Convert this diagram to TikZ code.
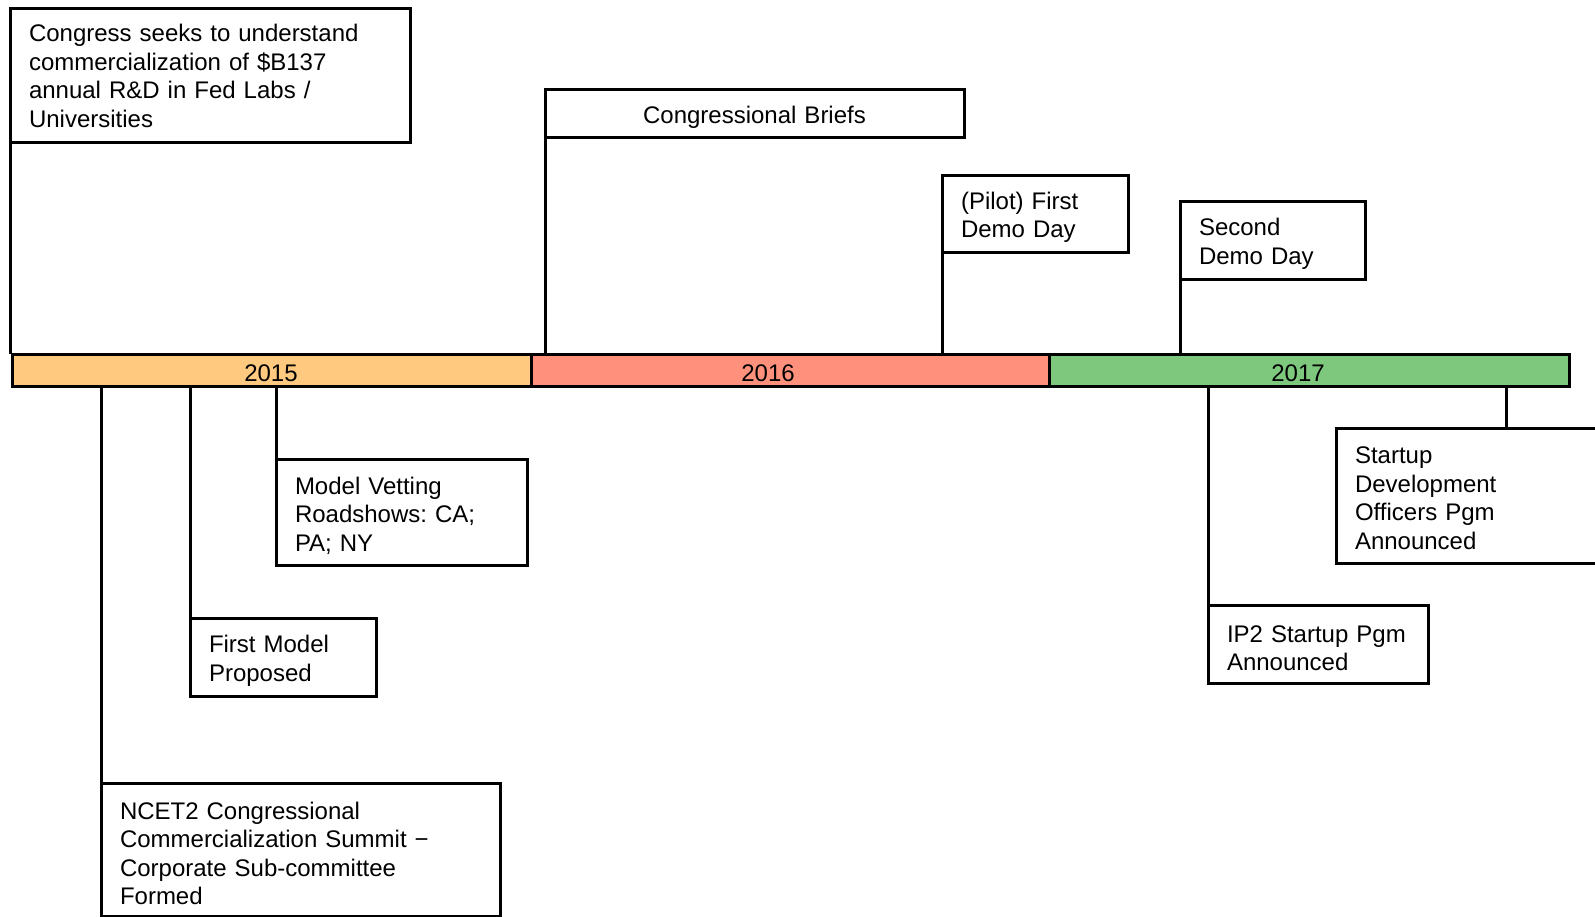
\documentclass[tikz,border=0pt]{standalone}
\usepackage{fontspec}
\setmainfont{Liberation Sans}
\frenchspacing
\definecolor{yr15}{HTML}{FFC97F}
\definecolor{yr16}{HTML}{FF917C}
\definecolor{yr17}{HTML}{7EC87E}
\tikzset{
  top strut/.store in=\evstrut, top strut=25pt,
  event/.style={draw, line width=3pt, outer sep=0pt, anchor=north west,
    inner xsep=19pt, inner ysep=0pt, align=left,
    execute at begin node={\rule{0pt}{\evstrut}},
    font=\fontsize{24}{28.5}\selectfont},
  yearbar/.style={draw, line width=3pt, outer sep=0pt, anchor=north west,
    minimum width=519pt, minimum height=32pt, inner sep=0pt},
  yeartext/.style={anchor=base, inner sep=0pt, font=\fontsize{24}{28}\selectfont},
  link/.style={line width=3pt},
}
\begin{document}
\begin{tikzpicture}[x=1pt,y=-1pt]
		\useasboundingbox (0,0) rectangle (1595,916);
		\clip (0,0) rectangle (1595,916);
		
		% years
		\node[yearbar, fill=yr15] (y2015) at (12,354) {};
		\node[yearbar, fill=yr16] (y2016) at (531,354) {};
		\node[yearbar, fill=yr17, minimum width=520pt] (y2017) at (1049,354) {};
		\node[yeartext] (t2015) at (271,381) {2015};
		\node[yeartext] (t2016) at (768,381) {2016};
		\node[yeartext] (t2017) at (1298,381) {2017};
		
		% above the bar
		\node[event, top strut=19pt, text width=362pt, minimum height=134pt] (congress) at (10,8) {Congress seeks to understand\\ commercialization of \$B137\\ annual R\&D in Fed Labs /\\ Universities};
		\node[event, text width=381pt, align=center, minimum height=48pt] (briefs) at (545,89) {Congressional Briefs};
		\node[event, text width=148pt, minimum height=77pt] (pilot) at (942,175) {(Pilot) First\\ Demo Day};
		\node[event, text width=147pt, minimum height=78pt] (second) at (1180,201) {Second\\ Demo Day};
		
		% below the bar
		\node[event, text width=213pt, minimum height=106pt] (vetting) at (276,459) {Model Vetting\\ Roadshows: CA;\\ PA; NY};
		\node[event, text width=148pt, minimum height=78pt] (firstmodel) at (190,618) {First Model\\ Proposed};
		\node[event, text width=361pt, minimum height=133pt] (summit) at (101,783) {NCET2 Congressional\\ Commercialization Summit −\\ Corporate Sub-committee\\ Formed};
		\node[event, text width=182pt, minimum height=78pt] (ip2) at (1208,605) {IP2 Startup Pgm\\ Announced};
		\node[event, top strut=22pt, text width=262pt, minimum height=135pt] (sdo) at (1336,428) {Startup\\ Development\\ Officers Pgm\\ Announced};
		\coordinate (sdotop) at (1506,428);
		
		\draw[link] (congress.south west) -- (congress.south west |- y2015.north);
		\draw[link] (briefs.south west) -- (briefs.south west |- y2016.north);
		\draw[link] (pilot.south west) -- (pilot.south west |- y2016.north);
		\draw[link] (second.south west) -- (second.south west |- y2017.north);
		\draw[link] (vetting.north west) -- (vetting.north west |- y2015.south);
		\draw[link] (firstmodel.north west) -- (firstmodel.north west |- y2015.south);
		\draw[link] (summit.north west) -- (summit.north west |- y2015.south);
		\draw[link] (ip2.north west) -- (ip2.north west |- y2017.south);
		\draw[link] (sdotop) -- (sdotop |- y2017.south);
\end{tikzpicture}
\end{document}
